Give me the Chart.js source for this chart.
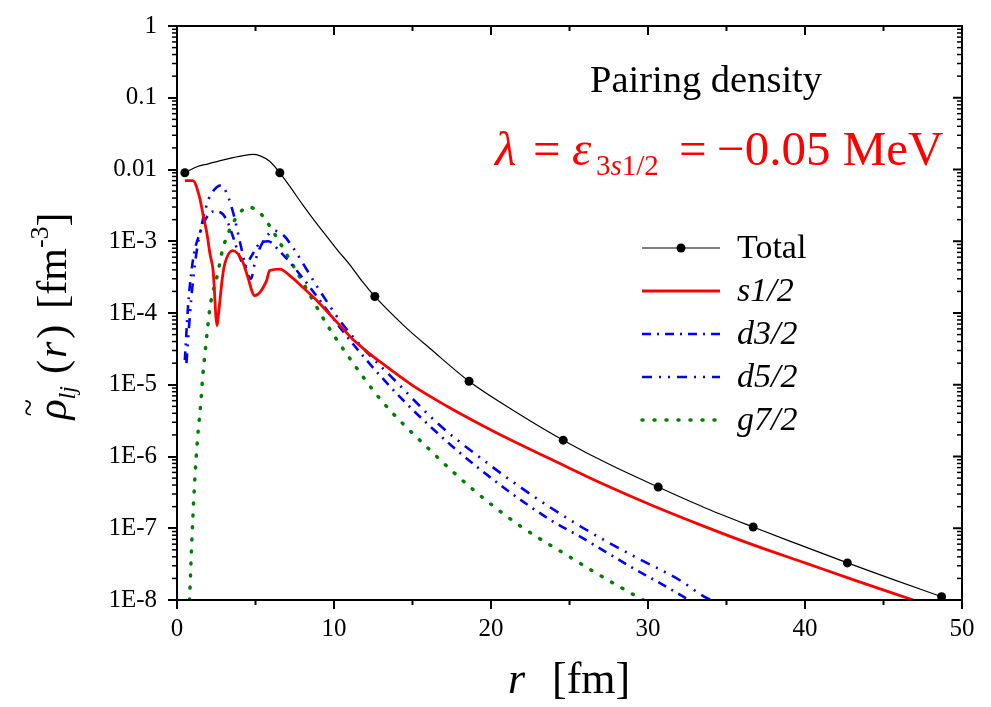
<!DOCTYPE html>
<html><head><meta charset="utf-8">
<script src="https://cdn.jsdelivr.net/npm/chart.js@4.4.0/dist/chart.umd.min.js"></script>
<style>html,body{margin:0;padding:0;background:#fff;}canvas{display:block;}</style>
</head><body>
<canvas id="c" width="991" height="707"></canvas>
<script>
// ---------- data ----------
const seriesNames = ['Total', 's1/2', 'd3/2', 'd5/2', 'g7/2'];

const totalR = [0.5, 1.3, 2.0, 2.7, 3.5, 4.3, 4.8, 5.3, 5.9, 6.55, 7.2, 8.0, 8.8, 9.55, 10.3, 11.0, 11.8, 12.6, 14.5, 16.1, 18.6, 21.4, 24.6, 27.5, 30.65, 33.5, 36.7, 39.5, 42.7, 45.5, 48.7];
const totalV = [9e-3, 1.1e-2, 1.2e-2, 1.32e-2, 1.45e-2, 1.57e-2, 1.62e-2, 1.55e-2, 1.3e-2, 9e-3, 5.77e-3, 3.24e-3, 1.88e-3, 1.16e-3, 7.19e-4, 4.74e-4, 2.75e-4, 1.7e-4, 6.51e-5, 3.22e-5, 1.12e-5, 4.42e-6, 1.69e-6, 7.84e-7, 3.75e-7, 1.98e-7, 1.04e-7, 6.05e-8, 3.29e-8, 1.97e-8, 1.11e-8];
const totalMarkerR = [0.5, 6.55, 12.6, 18.6, 24.6, 30.65, 36.7, 42.7, 48.7];

const s12R = [0.5, 1.0, 1.45, 1.65, 1.9, 2.1, 2.3, 2.55, 2.65, 2.9, 3.05, 3.55, 4.15, 4.45, 4.95, 5.7, 5.9, 6.55, 7.2, 8.0, 9.1, 10.2, 11.2, 12.0, 12.9, 15.0, 17.2, 19.3, 21.4, 23.8, 27.0, 30.2, 33.5, 36.7, 40.0, 43.1, 46.9];
const s12V = [7e-3, 7e-3, 4.0e-3, 2.4e-3, 1.3e-3, 6.7e-4, 3.9e-4, 6.7e-5, 1.0e-4, 3.2e-4, 4.9e-4, 7.4e-4, 5.4e-4, 3.5e-4, 1.75e-4, 2.8e-4, 3.9e-4, 4.1e-4, 3.3e-4, 2.3e-4, 1.35e-4, 7.4e-5, 4.3e-5, 3.02e-5, 2.12e-5, 9.8e-6, 5.02e-6, 2.82e-6, 1.64e-6, 9.2e-7, 4.27e-7, 2.11e-7, 1.08e-7, 5.86e-8, 3.29e-8, 1.91e-8, 1.0e-8];

const d32R = [0.5, 0.7, 0.9, 1.1, 1.4, 1.8, 2.3, 2.8, 3.2, 3.6, 4.0, 4.3, 4.7, 5.2, 5.8, 6.5, 8.0, 9.0, 10.5, 12.0, 14.4, 17.6, 20.8, 23.9, 25.6, 27.3, 28.9, 30.6, 32.0, 32.6];
const d32V = [2.2e-5, 1.2e-4, 3.5e-4, 7e-4, 1.2e-3, 2.0e-3, 2.6e-3, 2.5e-3, 1.9e-3, 1.1e-3, 6e-4, 4.5e-4, 6e-4, 9e-4, 1.0e-3, 7.4e-4, 3.1e-4, 1.6e-4, 5.8e-5, 2.3e-5, 6.1e-6, 1.35e-6, 3.7e-7, 1.26e-7, 7.8e-8, 4.7e-8, 2.9e-8, 1.8e-8, 1.2e-8, 1.0e-8];

const d52R = [0.6, 0.9, 1.2, 1.6, 2.0, 2.5, 2.8, 3.2, 3.6, 4.0, 4.4, 4.7, 5.0, 5.5, 6.2, 6.8, 7.5, 8.0, 9.0, 10.5, 12.0, 13.7, 16.6, 19.7, 22.7, 25.9, 28.9, 32.0, 33.8, 34.1];
const d52V = [2e-5, 1.5e-4, 6e-4, 1.8e-3, 3.8e-3, 5.6e-3, 6e-3, 4.5e-3, 2.4e-3, 1.0e-3, 4.2e-4, 3.0e-4, 5.5e-4, 1.0e-3, 1.4e-3, 1.2e-3, 7.5e-4, 5e-4, 2.2e-4, 7.2e-5, 3.0e-5, 1.26e-5, 2.9e-6, 8.3e-7, 2.8e-7, 1.0e-7, 4.3e-8, 1.9e-8, 1.05e-8, 1.0e-8];

const g72R = [0.8, 0.95, 1.1, 1.3, 1.5, 1.65, 1.78, 1.9, 2.1, 2.6, 2.9, 3.3, 3.6, 4.0, 4.5, 5.2, 5.7, 6.05, 7.85, 9.55, 10.8, 13.0, 16.0, 18.9, 21.8, 25.0, 26.8, 28.5, 29.7];
const g72V = [1e-8, 7e-8, 3.5e-7, 1.7e-6, 5.1e-6, 1.4e-5, 2.7e-5, 4.9e-5, 1.2e-4, 3.6e-4, 7.6e-4, 1.35e-3, 1.85e-3, 2.5e-3, 3.0e-3, 2.6e-3, 1.9e-3, 1.45e-3, 3.1e-4, 6.9e-5, 2.7e-5, 6.1e-6, 1.3e-6, 3.4e-7, 1.1e-7, 4e-8, 2.3e-8, 1.4e-8, 1.0e-8];

const xTickValues = [0, 10, 20, 30, 40, 50];
const yTickValues = [1e-8, 1e-7, 1e-6, 1e-5, 1e-4, 1e-3, 1e-2, 1e-1, 1];
const yTickLabels = ['1E-8', '1E-7', '1E-6', '1E-5', '1E-4', '1E-3', '0.01', '0.1', '1'];

// ---------- helpers ----------
const SERIF = '"Liberation Serif", "DejaVu Serif", serif';
const pts = (rs, vs) => rs.map((r, i) => ({x: r, y: vs[i]}));

function drawPieces(ctx, pieces, x, y) {
  let cx = x;
  for (const p of pieces) {
    ctx.font = p.font;
    ctx.fillText(p.t, cx, y + (p.dy || 0));
    cx += ctx.measureText(p.t).width + (p.sp || 0);
  }
  return cx;
}
function piecesWidth(ctx, pieces) {
  let w = 0;
  for (const p of pieces) { ctx.font = p.font; w += ctx.measureText(p.t).width + (p.sp || 0); }
  return w;
}

const decorPlugin = {
  id: 'decor',
  afterDraw(chart) {
    const {ctx, chartArea: a, scales: {x, y}} = chart;
    ctx.save();
    ctx.strokeStyle = '#000';
    ctx.lineWidth = 2;
    ctx.lineCap = 'butt';
    const line = (x1, y1, x2, y2) => { ctx.beginPath(); ctx.moveTo(x1, y1); ctx.lineTo(x2, y2); ctx.stroke(); };
    // frame
    ctx.strokeRect(a.left, a.top, a.right - a.left, a.bottom - a.top);
    // x ticks: top inward, bottom minor outward
    for (let v = 0; v <= 50; v += 5) {
      const px = x.getPixelForValue(v);
      const major = v % 10 === 0;
      line(px, a.top, px, a.top + (major ? 9 : 5));
      if (!major) line(px, a.bottom, px, a.bottom + 5);
    }
    // y minor ticks
    ctx.lineWidth = 1.5;
    for (let e = -8; e < 0; e++) {
      for (let m = 2; m <= 9; m++) {
        const py = y.getPixelForValue(m * Math.pow(10, e));
        line(a.left - 5, py, a.left, py);
        line(a.right, py, a.right - 5, py);
      }
    }
    ctx.lineWidth = 2;
    for (const v of yTickValues) {
      const py = y.getPixelForValue(v);
      line(a.right, py, a.right - 9, py);
    }

    ctx.fillStyle = '#000';
    ctx.textBaseline = 'alphabetic';
    ctx.textAlign = 'left';

    // annotation text
    ctx.font = '38.5px ' + SERIF;
    ctx.fillText('Pairing density', 590, 92);

    ctx.fillStyle = '#ff0000';
    const big = '49px ' + SERIF, bigI = 'italic 49px ' + SERIF;
    const sub = '29px ' + SERIF, subI = 'italic 29px ' + SERIF;
    ctx.font = bigI; ctx.fillText('λ', 495, 165);
    ctx.font = big; ctx.fillText('=', 533, 165);
    ctx.font = bigI; ctx.fillText('ε', 572, 165);
    drawPieces(ctx, [{t: '3', font: sub}, {t: 's', font: subI}, {t: '1/2', font: sub}], 596, 175);
    ctx.font = big; ctx.fillText('=', 679, 165);
    ctx.font = big; ctx.fillText('\u22120.05 MeV', 717, 165);

    // x-axis title
    ctx.fillStyle = '#000';
    ctx.font = 'italic 44px ' + SERIF; ctx.fillText('r', 508, 693);
    ctx.font = '44px ' + SERIF; ctx.fillText('[fm]', 552, 693);

    // y-axis title (rotated)
    ctx.save();
    ctx.translate(66, 316);
    ctx.rotate(-Math.PI / 2);
    const yt = [
      {t: 'ρ', font: 'italic 42px ' + SERIF},
      {t: 'lj', font: 'italic 24px ' + SERIF, dy: 9, sp: 12},
      {t: '(', font: '42px ' + SERIF, sp: 2},
      {t: 'r', font: 'italic 42px ' + SERIF, sp: 3},
      {t: ')', font: '42px ' + SERIF, sp: 16},
      {t: '[fm', font: '42px ' + SERIF},
      {t: '-3', font: '26px ' + SERIF, dy: -18},
      {t: ']', font: '42px ' + SERIF}
    ];
    const w = piecesWidth(ctx, yt);
    const sx = -w / 2;
    drawPieces(ctx, yt, sx, 0);
    ctx.font = '32px ' + SERIF;
    ctx.fillText('~', sx + 3, -27);
    ctx.restore();

    // legend
    const rowsY = [248, 291, 334, 377, 420];
    chart.data.datasets.forEach((ds, i) => {
      const yy = rowsY[i];
      ctx.save();
      ctx.strokeStyle = ds.borderColor;
      ctx.lineWidth = ds.borderWidth;
      ctx.setLineDash(ds.borderDash || []);
      ctx.lineCap = ds.borderCapStyle || 'butt';
      ctx.beginPath(); ctx.moveTo(642, yy); ctx.lineTo(720, yy); ctx.stroke();
      ctx.restore();
      if (i === 0) {
        ctx.beginPath(); ctx.arc(681, yy, 4.5, 0, Math.PI * 2); ctx.fillStyle = '#000'; ctx.fill();
      }
      ctx.fillStyle = '#000';
      ctx.font = (i === 0 ? '' : 'italic ') + '34px ' + SERIF;
      ctx.fillText(seriesNames[i], 737, yy + 10);
    });
    ctx.restore();
  }
};

new Chart(document.getElementById('c'), {
  type: 'line',
  data: {
    datasets: [
      {label: seriesNames[0], data: pts(totalR, totalV), borderColor: '#000000', borderWidth: 1.2,
        pointRadius: c => (c.raw && totalMarkerR.includes(c.raw.x)) ? 4.5 : 0,
        pointBackgroundColor: '#000', pointBorderColor: '#000', pointBorderWidth: 0},
      {label: seriesNames[1], data: pts(s12R, s12V), borderColor: '#ff0000', borderWidth: 2.8, pointRadius: 0},
      {label: seriesNames[2], data: pts(d32R, d32V), borderColor: '#0000ff', borderWidth: 2.6, borderDash: [9, 6, 2, 6], pointRadius: 0},
      {label: seriesNames[3], data: pts(d52R, d52V), borderColor: '#0000ff', borderWidth: 2.6, borderDash: [10, 7, 2, 7, 2, 7], pointRadius: 0},
      {label: seriesNames[4], data: pts(g72R, g72V), borderColor: '#008000', borderWidth: 3.5, borderDash: [1, 11], borderCapStyle: 'round', pointRadius: 0}
    ]
  },
  options: {
    responsive: false,
    animation: false,
    devicePixelRatio: 1,
    events: [],
    elements: {line: {cubicInterpolationMode: 'monotone', fill: false}},
    layout: {padding: {top: 25, right: 29, left: 0, bottom: 0}},
    plugins: {legend: {display: false}, tooltip: {enabled: false}},
    scales: {
      x: {
        type: 'linear', min: 0, max: 50,
        afterBuildTicks: s => { s.ticks = xTickValues.map(v => ({value: v})); },
        afterFit: s => { s.height = 107; },
        ticks: {font: {family: SERIF, size: 25}, color: '#000', padding: 5, maxRotation: 0, autoSkip: false},
        grid: {display: true, drawOnChartArea: false, drawTicks: true, tickLength: 9, color: '#000', lineWidth: 2},
        border: {display: false}
      },
      y: {
        type: 'logarithmic', min: 1e-8, max: 1,
        afterBuildTicks: s => { s.ticks = yTickValues.map(v => ({value: v})); },
        afterFit: s => { s.width = 177; },
        ticks: {font: {family: SERIF, size: 25}, color: '#000', padding: 11, autoSkip: false,
          callback: (v, i) => yTickLabels[i]},
        grid: {display: true, drawOnChartArea: false, drawTicks: true, tickLength: 9, color: '#000', lineWidth: 2},
        border: {display: false}
      }
    }
  },
  plugins: [decorPlugin]
});
</script>
</body></html>
